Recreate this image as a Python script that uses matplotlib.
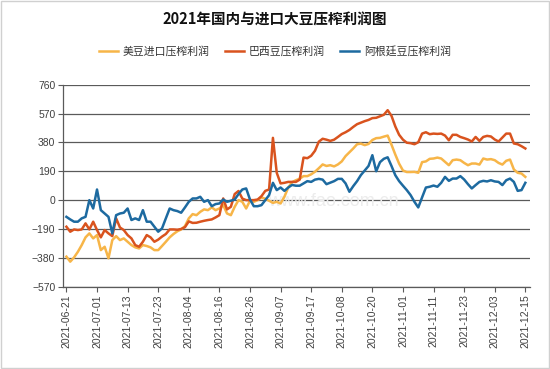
import numpy as np
import matplotlib
matplotlib.use('Agg')
import matplotlib.pyplot as plt
from matplotlib.patches import Rectangle

plt.rcParams['font.family'] = ['Liberation Sans', 'Noto Sans CJK SC', 'DejaVu Sans']

# tick dates (one label every 8 trading days)
tick_dates = ['2021-06-21', '2021-07-01', '2021-07-13', '2021-07-23', '2021-08-04',
              '2021-08-16', '2021-08-26', '2021-09-07', '2021-09-17', '2021-10-08',
              '2021-10-20', '2021-11-01', '2021-11-11', '2021-11-23', '2021-12-03',
              '2021-12-15']
tick_step = 8

# 美豆进口压榨利润
us_profit = [-372, -405, -377, -340, -296, -245, -219, -252, -230, -329,
             -307, -383, -263, -237, -263, -252, -274, -296, -311, -318,
             -296, -302, -311, -329, -329, -302, -274, -245, -223, -205,
             -193, -171, -120, -92, -99, -77, -61, -66, -48, -66,
             -55, -33, -88, -99, -44, 0, -11, -55, -4, -11,
             0, 18, 9, -4, -18, -11, -22, 22, 83, 118,
             131, 141, 158, 158, 170, 187, 210, 235, 225, 230,
             222, 235, 255, 290, 315, 340, 368, 372, 362, 370,
             396, 408, 410, 418, 425, 365, 300, 240, 195, 185,
             185, 186, 180, 250, 255, 272, 274, 280, 274, 252,
             230, 263, 267, 263, 245, 230, 241, 241, 234, 274,
             267, 270, 263, 245, 234, 259, 267, 202, 180, 175,
             153]

# 巴西豆压榨利润
brazil_profit = [-175, -208, -193, -197, -193, -153, -193, -142, -197, -245,
                 -197, -219, -237, -120, -180, -197, -230, -252, -296, -307,
                 -274, -230, -245, -274, -260, -240, -223, -193, -193, -195,
                 -190, -178, -140, -150, -149, -142, -136, -131, -127, -114,
                 -99, 11, -61, -44, 40, 60, 10, 0, 0, 0,
                 4, 26, 61, 70, 410, 180, 110, 114, 120, 120,
                 120, 135, 280, 276, 292, 325, 385, 404, 398, 390,
                 398, 416, 435, 447, 462, 482, 500, 510, 520, 528,
                 540, 542, 552, 562, 592, 555, 485, 430, 398, 378,
                 375, 368, 381, 438, 447, 434, 438, 436, 438, 425,
                 394, 430, 430, 416, 408, 399, 386, 416, 390, 416,
                 423, 419, 399, 386, 412, 438, 438, 373, 368, 355,
                 340]

# 阿根廷豆压榨利润
argentina_profit = [-110, -127, -142, -142, -120, -110, 0, -55, 70, -66,
                    -88, -110, -219, -99, -88, -83, -55, -131, -120, -131,
                    -66, -142, -142, -175, -208, -186, -120, -55, -66, -72,
                    -83, -48, -11, 11, 11, 22, -11, 0, -40, -26,
                    -22, 4, -11, -4, 4, 40, 70, 77, 4, -40,
                    -40, -33, 0, 33, 114, 66, 83, 61, 83, 100,
                    95, 95, 110, 125, 120, 135, 140, 135, 105, 115,
                    125, 140, 140, 110, 55, 92, 125, 165, 195, 225,
                    296, 190, 250, 272, 282, 225, 164, 125, 95, 66,
                    33, -11, -48, 18, 83, 88, 96, 88, 114, 153,
                    127, 142, 142, 158, 136, 105, 77, 99, 120, 127,
                    123, 131, 123, 120, 99, 131, 142, 120, 61, 66,
                    114]

series = [('美豆进口压榨利润', us_profit, '#F7B548'),
          ('巴西豆压榨利润', brazil_profit, '#D9531E'),
          ('阿根廷豆压榨利润', argentina_profit, '#1D6AA0')]

fig = plt.figure(figsize=(5.5, 3.69), dpi=100)
ax = fig.add_axes([0.1145, 0.223, 0.849, 0.5475])

lines = []
for name, vals, col in series:
    x = np.arange(len(vals))
    ln, = ax.plot(x, vals, color=col, lw=1.8, label=name, zorder=3)
    lines.append(ln)

yt = np.arange(-570, 761, 190)
ax.set_ylim(-570, 760)
ax.set_yticks(yt)
ax.set_xlim(-0.9, 121.2)
ticks = np.arange(0, len(tick_dates) * tick_step, tick_step)
ax.set_xticks(ticks)
ax.set_xticklabels(tick_dates, rotation=90)

ax.grid(axis='y', color='#5a5a5a', lw=0.9)
ax.set_axisbelow(True)
for s in ['top', 'right']:
    ax.spines[s].set_visible(False)
for s in ['left', 'bottom']:
    ax.spines[s].set_color('#5a5a5a')
    ax.spines[s].set_linewidth(0.9)
ax.tick_params(direction='out', length=3.5, width=0.8, color='#5a5a5a',
               labelsize=7.5, labelcolor='#404040', pad=2)

# faint watermark
ax.text(0.58, 0.42, 'www.fao.com.cn', transform=ax.transAxes, fontsize=13,
        color='#ececec', ha='center', va='center', zorder=1)

fig.text(0.5, 1 - 20 / 369, '2021年国内与进口大豆压榨利润图', ha='center', va='center',
         fontsize=10.5, fontweight='bold', family=['Noto Sans CJK SC'], color='#111111')

fig.legend(handles=lines, loc='center', bbox_to_anchor=(0.5, 1 - 51 / 369), ncol=3,
           frameon=False, prop={'family': ['Noto Sans CJK SC'], 'size': 7.8},
           handlelength=1.75, handletextpad=0.45, columnspacing=1.4, labelcolor='#333333')

fig.patches.append(Rectangle((0.001, 0.002), 0.997, 0.996, transform=fig.transFigure,
                             fill=False, ec='#d0d0d0', lw=1))

fig.savefig('out.png', dpi=100, facecolor='white')
